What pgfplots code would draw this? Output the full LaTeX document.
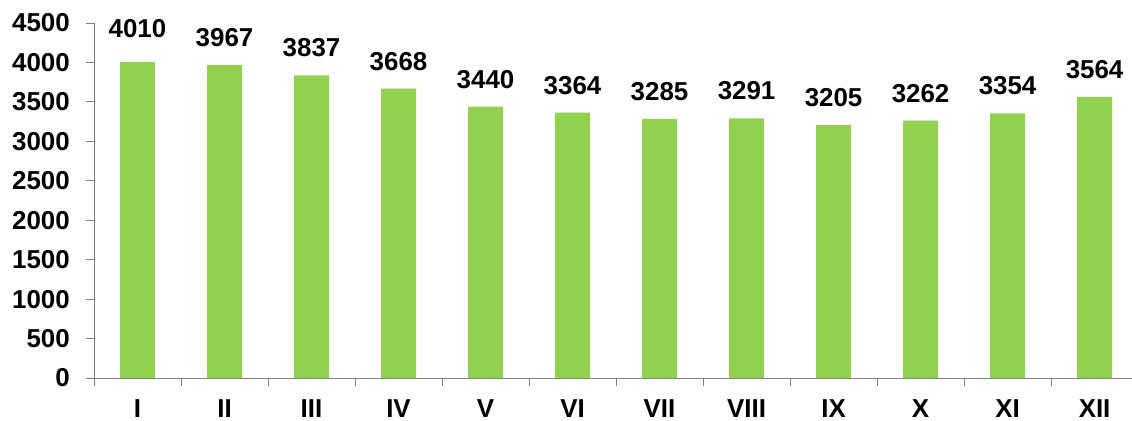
\documentclass[border=0pt]{standalone}
\usepackage{fontspec}
\setmainfont{Liberation Sans}
\usepackage{pgfplots}
\pgfplotsset{compat=1.18}
\usetikzlibrary{calc}
\definecolor{barg}{HTML}{92D050}
\definecolor{axg}{HTML}{808080}
\begin{document}
\begin{tikzpicture}[x=1bp,y=1bp]
\begin{axis}[
  scale only axis,
  width=1038bp, height=355bp,
  xmin=-0.5, xmax=11.43,
  ymin=0, ymax=4500,
  axis x line=bottom, axis y line=left,
  axis line style={axg, line width=0.8bp, -},
  ytick={0,500,...,4500},
  xtick={-0.5,0.5,1.5,2.5,3.5,4.5,5.5,6.5,7.5,8.5,9.5,10.5},
  xticklabels={},
  extra x ticks={0,...,11},
  extra x tick labels={I,II,III,IV,V,VI,VII,VIII,IX,X,XI,XII},
  extra x tick style={major tick length=0pt},
  major tick length=8bp,
  tick align=outside,
  tick style={axg, line width=0.8bp},
  tick label style={font=\fontsize{26}{28}\selectfont\bfseries, inner sep=0pt},
  /pgf/number format/assume math mode=true,
  /pgf/number format/1000 sep={},
  yticklabel style={xshift=-16bp},
  xticklabel style={yshift=-21bp},
  ybar, bar width=35bp, bar shift=0pt,
  nodes near coords,
  nodes near coords style={font=\fontsize{26}{28}\selectfont\bfseries, inner sep=0pt, anchor=south, yshift=18bp},
  clip=false,
]
\addplot[fill=barg, draw=none, nodes near coords style={yshift=6bp}] coordinates {(0,4010)};
\addplot[fill=barg, draw=none] coordinates {
(1,3967) (2,3837) (3,3668) (4,3440) (5,3364)
(6,3285) (7,3291) (8,3205) (9,3262) (10,3354) (11,3564)};
\end{axis}
\pgfresetboundingbox
\path ($(current axis.south west)+(-94bp,-43bp)$) rectangle ($(current axis.north east)+(0,23bp)$);
\end{tikzpicture}
\end{document}
